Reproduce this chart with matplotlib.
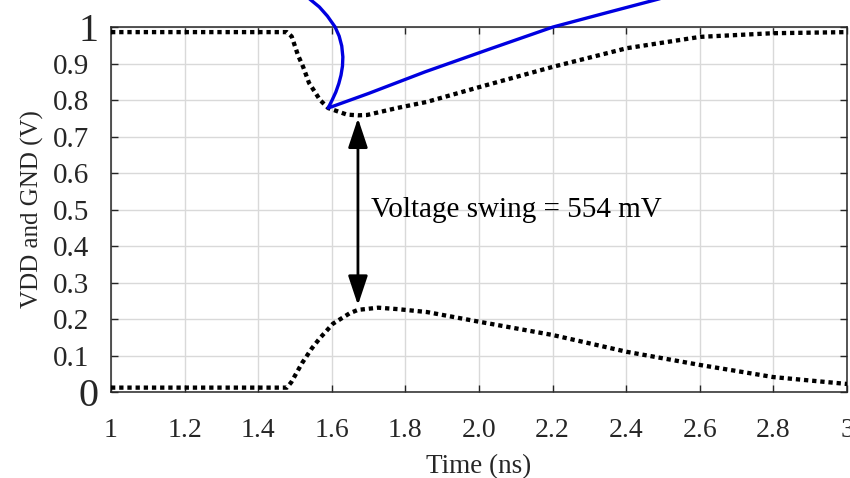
import matplotlib
matplotlib.use("Agg")
import matplotlib.pyplot as plt
from matplotlib.transforms import ScaledTranslation

plt.rcParams['font.family'] = ['Liberation Serif', 'DejaVu Serif']

# Supply rail waveforms (ns, V)
t_vdd = [1.0, 1.478, 1.491, 1.508, 1.522, 1.538, 1.568, 1.590, 1.641, 1.671, 1.696,
         1.777, 1.859, 2.003, 2.201, 2.402, 2.601, 2.799, 3.0]
vdd = [0.986, 0.986, 0.974, 0.923, 0.891, 0.847, 0.800, 0.778, 0.760, 0.758, 0.759,
       0.778, 0.795, 0.836, 0.891, 0.942, 0.973, 0.983, 0.986]

t_gnd = [1.0, 1.478, 1.490, 1.519, 1.546, 1.568, 1.603, 1.649, 1.671, 1.726, 1.780,
         1.859, 2.003, 2.201, 2.402, 2.601, 2.799, 3.0]
gnd = [0.012, 0.012, 0.027, 0.079, 0.120, 0.148, 0.187, 0.216, 0.225, 0.231, 0.227,
       0.219, 0.192, 0.156, 0.110, 0.074, 0.041, 0.022]

# Blue trace (runs past the top of the axes)
t_blue = [1.505, 1.543, 1.566, 1.588, 1.609, 1.620, 1.627, 1.630, 1.629, 1.625,
          1.619, 1.611, 1.601, 1.590,
          1.700, 1.853, 2.030, 2.201, 2.350, 2.478, 2.600]
v_blue = [1.107, 1.074, 1.055, 1.030, 1.000, 0.975, 0.948, 0.918, 0.893, 0.868,
          0.845, 0.822, 0.800, 0.778,
          0.818, 0.877, 0.940, 1.000, 1.040, 1.074, 1.107]

# Swing marker
swing_t = 1.671
swing_low = 0.238
swing_high = 0.750
swing_text = "Voltage swing = 554 mV"

x_ticks = [1.0, 1.2, 1.4, 1.6, 1.8, 2.0, 2.2, 2.4, 2.6, 2.8, 3.0]
x_labels = ["1", "1.2", "1.4", "1.6", "1.8", "2.0", "2.2", "2.4", "2.6", "2.8", "3"]
y_ticks = [0.0, 0.1, 0.2, 0.3, 0.4, 0.5, 0.6, 0.7, 0.8, 0.9, 1.0]
y_labels = ["0", "0.1", "0.2", "0.3", "0.4", "0.5", "0.6", "0.7", "0.8", "0.9", "1"]

txt = '#262626'

fig = plt.figure(figsize=(8.5, 4.78), dpi=100)
ax = fig.add_axes([0.1306, 0.1799, 0.8659, 0.7636])

dots = (0, (1, 0.9))
ax.plot(t_vdd, vdd, color='black', lw=3.1, linestyle=dots, dash_capstyle='butt', zorder=3)
ax.plot(t_gnd, gnd, color='black', lw=3.1, linestyle=dots, dash_capstyle='butt', zorder=3)
ax.plot(t_blue, v_blue, color='#0000e0', lw=2.4, clip_on=False, zorder=4)

ax.annotate('', xy=(swing_t, swing_high), xytext=(swing_t, swing_low),
            arrowprops=dict(arrowstyle='<|-|>,head_length=0.9,head_width=0.3',
                            lw=2, color='black', shrinkA=0, shrinkB=0,
                            mutation_scale=20), zorder=5)
ax.text(1.707, 0.499, swing_text, ha='left', va='center', fontsize=21, color='black')

ax.set_xlim(1, 3)
ax.set_ylim(0, 1)
ax.set_xticks(x_ticks)
ax.set_xticklabels(x_labels)
ax.set_yticks(y_ticks)
ax.set_yticklabels(y_labels)

ax.grid(True, color='#d9d9d9', lw=1)
ax.set_axisbelow(True)
for s in ax.spines.values():
    s.set_color(txt)
    s.set_linewidth(1.1)
ax.tick_params(direction='in', length=5, width=1, colors=txt, top=True, right=True)
ax.tick_params(axis='x', pad=19, labelsize=20)
ax.tick_params(axis='y', pad=16, labelsize=21)

for lab in ax.get_yticklabels():
    if lab.get_text() in ("0", "1"):
        lab.set_fontsize(29)
        lab.set_transform(lab.get_transform() + ScaledTranslation(10 / 100, 0, fig.dpi_scale_trans))

ax.set_xlabel("Time (ns)", fontsize=19.5, color=txt, labelpad=8)
ax.set_ylabel("VDD and GND (V)", fontsize=18, color=txt, labelpad=6)

fig.savefig("out.png", dpi=100)
